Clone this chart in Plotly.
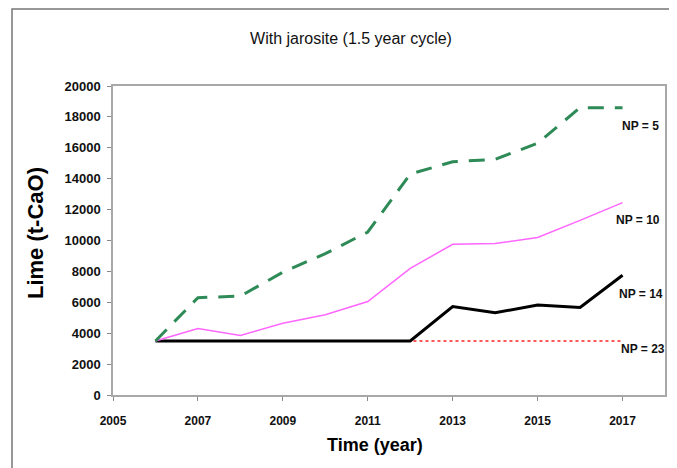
import plotly.graph_objects as go

years = [2006, 2007, 2008, 2009, 2010, 2011, 2012, 2013, 2014, 2015, 2016, 2017]
np5 = [3500, 6300, 6400, 7950, 9150, 10550, 14300, 15100, 15250, 16300, 18600, 18600]
np10 = [3500, 4300, 3850, 4650, 5200, 6050, 8200, 9750, 9800, 10200, 11300, 12450]
np14 = [3500, 3500, 3500, 3500, 3500, 3500, 3500, 5720, 5320, 5830, 5670, 7750]
np23 = [3500] * 12

labels = ["NP = 5", "NP = 10", "NP = 14", "NP = 23"]
label_y = [17400, 11300, 6550, 2950]
label_x = [2016.95, 2016.8, 2016.87, 2016.92]

xticks = [2005, 2007, 2009, 2011, 2013, 2015, 2017]
yticks = list(range(0, 20001, 2000))

title_text = "With jarosite (1.5 year cycle)"
xtitle = "Time (year)"
ytitle = "Lime (t-CaO)"

FONT = "Liberation Sans, Arial, sans-serif"

# plot area in figure pixels (page has an 8px body offset)
W, H = 677, 468
L, R, T, B = 105, 20, 78, 81
PW, PH = W - L - R, H - T - B

fig = go.Figure()
fig.add_trace(go.Scatter(x=years, y=np23, mode="lines",
                         line=dict(color="#ff2020", width=1.5, dash="dot")))
fig.add_trace(go.Scatter(x=years, y=np14, mode="lines",
                         line=dict(color="#000000", width=3)))
fig.add_trace(go.Scatter(x=years, y=np10, mode="lines",
                         line=dict(color="#ff66ff", width=1.5)))
fig.add_trace(go.Scatter(x=years, y=np5, mode="lines",
                         line=dict(color="#2e8b57", width=3, dash="16px,11px")))

for t, xx, yy in zip(labels, label_x, label_y):
    fig.add_annotation(x=xx, y=yy, text="<b>" + t + "</b>", showarrow=False,
                       xanchor="left", yanchor="middle", xref="x", yref="y",
                       font=dict(family=FONT, size=12, color="#111"))

# axis titles
fig.add_annotation(x=(367 - L) / PW, y=(H - B - 437) / PH, xref="paper", yref="paper",
                   text="<b>" + xtitle + "</b>", showarrow=False,
                   xanchor="center", yanchor="middle",
                   font=dict(family=FONT, size=18, color="#000"))
fig.add_annotation(x=(27 - L) / PW, y=(H - B - 225) / PH, xref="paper", yref="paper",
                   text="<b>" + ytitle + "</b>", showarrow=False, textangle=-90,
                   xanchor="center", yanchor="middle",
                   font=dict(family=FONT, size=22, color="#000"))

fig.update_layout(
    width=W, height=H,
    margin=dict(l=L, r=R, t=T, b=B),
    paper_bgcolor="white", plot_bgcolor="white",
    showlegend=False,
    title=dict(text=title_text, x=343 / W, xanchor="center", y=1 - 30 / H, yanchor="middle",
               font=dict(family=FONT, size=16, color="#111")),
    xaxis=dict(range=[2005, 2018], tickmode="array",
               tickvals=xticks, ticktext=["<b>%d</b>" % v for v in xticks],
               showgrid=False, zeroline=False, showline=True, linecolor="#a8a8a8", linewidth=1.5,
               mirror=True, ticks="outside", ticklen=4, tickcolor="#888",
               ticklabelstandoff=10,
               tickfont=dict(family=FONT, size=12, color="#111")),
    yaxis=dict(range=[0, 20000], tickmode="array",
               tickvals=yticks, ticktext=["<b>%d</b>" % v for v in yticks],
               showgrid=False, zeroline=False, showline=True, linecolor="#a8a8a8", linewidth=1.5,
               mirror=True, ticks="outside", ticklen=4, tickcolor="#888",
               ticklabelstandoff=4,
               tickfont=dict(family=FONT, size=13, color="#111")),
)

fig.add_shape(type="rect", xref="paper", yref="paper",
              x0=(4 - L) / PW, x1=(720 - L) / PW,
              y0=(H - B - 520) / PH, y1=(H - B - 1) / PH,
              line=dict(color="#777777", width=1.5), layer="below")

fig.write_html("out.html")
